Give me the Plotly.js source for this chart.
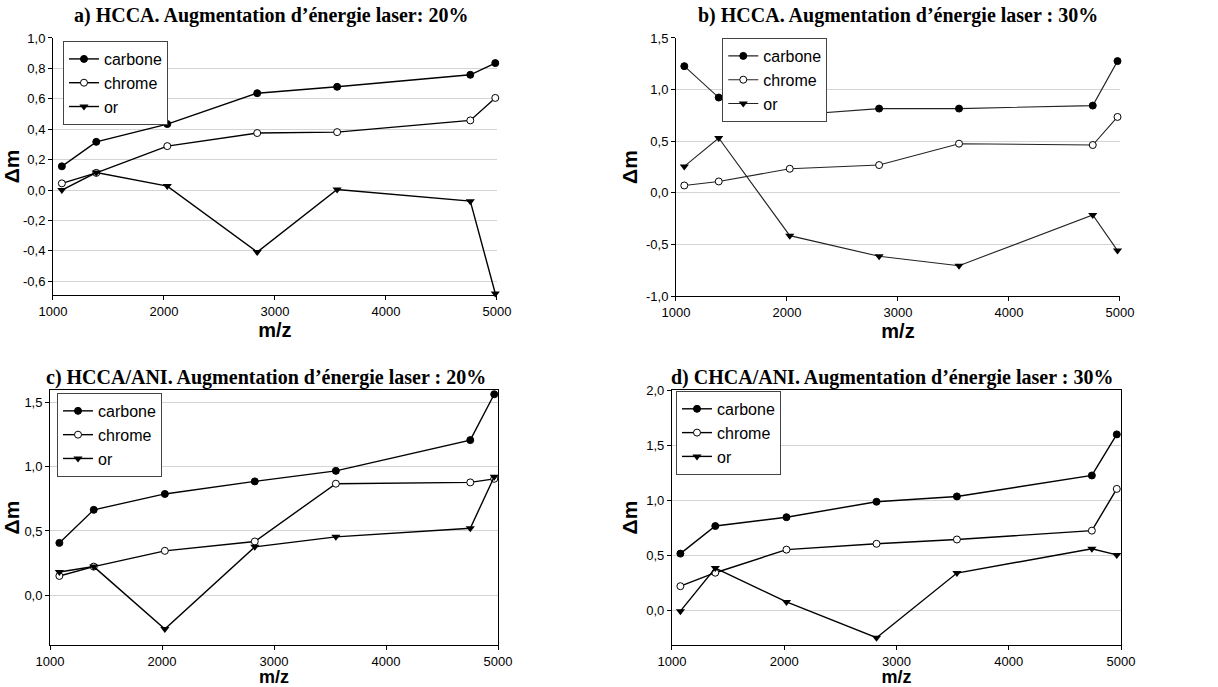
<!DOCTYPE html>
<html><head><meta charset="utf-8">
<script src="https://cdn.plot.ly/plotly-3.0.1.min.js"></script>
<style>html,body{margin:0;padding:0;background:#fff}#chart{width:1218px;height:687px}</style>
</head><body><div id="chart"></div>
<script>
// m/z values for each panel
const mzA = [1080, 1390, 2030, 2840, 3560, 4760, 4985];
const mzB = [1075, 1385, 2025, 2830, 3550, 4755, 4978];
const mzC = [1083, 1390, 2025, 2828, 3552, 4752, 4966];
const mzD = [1075, 1386, 2020, 2822, 3538, 4740, 4962];

// a) HCCA 20%
const aCarbone = [0.156, 0.317, 0.434, 0.637, 0.679, 0.758, 0.835];
const aChrome  = [0.044, 0.113, 0.289, 0.375, 0.381, 0.458, 0.606];
const aOr      = [0.000, 0.115, 0.026, -0.408, 0.004, -0.073, -0.680];
// b) HCCA 30%
const bCarbone = [1.227, 0.923, 0.751, 0.816, 0.816, 0.845, 1.276];
const bChrome  = [0.071, 0.110, 0.233, 0.269, 0.476, 0.463, 0.735];
const bOr      = [0.256, 0.531, -0.415, -0.615, -0.706, -0.214, -0.560];
// c) HCCA/ANI 20%
const cCarbone = [0.407, 0.665, 0.789, 0.887, 0.969, 1.209, 1.567];
const cChrome  = [0.149, 0.222, 0.345, 0.418, 0.869, 0.879, 0.907];
const cOr      = [0.180, 0.222, -0.265, 0.376, 0.454, 0.521, 0.923];
// d) CHCA/ANI 30%
const dCarbone = [0.518, 0.768, 0.848, 0.988, 1.036, 1.226, 1.598];
const dChrome  = [0.223, 0.345, 0.554, 0.607, 0.646, 0.726, 1.104];
const dOr      = [-0.003, 0.387, 0.080, -0.244, 0.342, 0.562, 0.506];

const seriesNames = ['carbone', 'chrome', 'or'];
const panelTitles = [
  'a) HCCA. Augmentation d\u2019énergie laser: 20%',
  'b) HCCA. Augmentation d\u2019énergie laser : 30%',
  'c) HCCA/ANI. Augmentation d\u2019énergie laser : 20%',
  'd) CHCA/ANI. Augmentation d\u2019énergie laser : 30%'
];
const xTickVals = [1000, 2000, 3000, 4000, 5000];
const xTickText = ['1000', '2000', '3000', '4000', '5000'];
const yTickValsA = [-0.6, -0.4, -0.2, 0, 0.2, 0.4, 0.6, 0.8, 1.0];
const yTickTextA = ['-0,6', '-0,4', '-0,2', '0,0', '0,2', '0,4', '0,6', '0,8', '1,0'];
const yTickValsB = [-1.0, -0.5, 0, 0.5, 1.0, 1.5];
const yTickTextB = ['-1,0', '-0,5', '0,0', '0,5', '1,0', '1,5'];
const yTickValsC = [0, 0.5, 1.0, 1.5];
const yTickTextC = ['0,0', '0,5', '1,0', '1,5'];
const yTickValsD = [0, 0.5, 1.0, 1.5, 2.0];
const yTickTextD = ['0,0', '0,5', '1,0', '1,5', '2,0'];

const markerStyles = [
  {symbol: 'circle', size: 7, color: '#000', line: {color: '#000', width: 1}},
  {symbol: 'circle', size: 7, color: '#fff', line: {color: '#000', width: 1}},
  {symbol: 'triangle-down', size: 8, color: '#000', line: {color: '#000', width: 0}}
];

const panels = [
  {x: mzA, ys: [aCarbone, aChrome, aOr], xa: 'x', ya: 'y', leg: 'legend', lw: 1.4, lc: '#000'},
  {x: mzB, ys: [bCarbone, bChrome, bOr], xa: 'x2', ya: 'y2', leg: 'legend2', lw: 1.1, lc: '#222'},
  {x: mzC, ys: [cCarbone, cChrome, cOr], xa: 'x3', ya: 'y3', leg: 'legend3', lw: 1.4, lc: '#000'},
  {x: mzD, ys: [dCarbone, dChrome, dOr], xa: 'x4', ya: 'y4', leg: 'legend4', lw: 1.4, lc: '#000'}
];

const traces = [];
panels.forEach(p => {
  p.ys.forEach((y, i) => {
    traces.push({
      type: 'scatter', mode: 'lines+markers', x: p.x, y: y,
      name: seriesNames[i], xaxis: p.xa, yaxis: p.ya, legend: p.leg,
      line: {color: p.lc, width: p.lw},
      marker: markerStyles[i], cliponaxis: false
    });
  });
});

const tickFont = {family: 'Liberation Sans, Arial, sans-serif', size: 13, color: '#000'};
function axTitleFont(size) {
  return {family: 'Liberation Sans, Arial, sans-serif', size: size, color: '#000', weight: 'bold'};
}
function xAxis(domain, anchor, mirror, tsize) {
  return {domain: domain, anchor: anchor, range: [1000, 5000], tickvals: xTickVals, ticktext: xTickText,
    showgrid: false, zeroline: false, showline: true, linecolor: '#000', linewidth: 1, mirror: mirror,
    ticks: 'outside', ticklen: 4, tickcolor: '#000', tickfont: tickFont,
    title: {text: 'm/z', font: axTitleFont(tsize), standoff: 0}};
}
function yAxis(domain, anchor, range, tv, tt, mirror) {
  return {domain: domain, anchor: anchor, range: range, tickvals: tv, ticktext: tt,
    showgrid: true, gridcolor: '#d4d4d4', gridwidth: 1, zeroline: false,
    showline: true, linecolor: '#000', linewidth: 1, mirror: mirror,
    ticks: 'outside', ticklen: 4, tickcolor: '#000', tickfont: tickFont,
    title: {text: 'Δm', font: axTitleFont(21), standoff: 2}};
}
const legFont = {family: 'Liberation Sans, Arial, sans-serif', size: 16, color: '#000'};
function leg(x, y) {
  return {x: x, y: y, xanchor: 'left', yanchor: 'top', bgcolor: '#fff', bordercolor: '#444',
    borderwidth: 1, font: legFont, tracegroupgap: 0, itemwidth: 30};
}
const titleFont = {family: 'Liberation Serif, Times New Roman, serif', size: 20, color: '#000', weight: 'bold'};
function ttl(text, x, y) {
  return {text: text, x: x, y: y, xref: 'paper', yref: 'paper', xanchor: 'center', yanchor: 'middle',
    showarrow: false, font: titleFont};
}

const layout = {
  width: 1218, height: 687, margin: {l: 0, r: 0, t: 0, b: 0},
  paper_bgcolor: '#fff', plot_bgcolor: '#fff', showlegend: true,
  xaxis: xAxis([0.0435, 0.408], 'y', false, 20),
  yaxis: yAxis([0.5706, 0.9447], 'x', [-0.69, 1.0], yTickValsA, yTickTextA, false),
  xaxis2: xAxis([0.555, 0.9195], 'y2', false, 20),
  yaxis2: yAxis([0.5691, 0.9447], 'x2', [-1.0, 1.5], yTickValsB, yTickTextB, false),
  xaxis3: xAxis([0.0411, 0.4089], 'y3', true, 18),
  yaxis3: yAxis([0.0611, 0.4323], 'x3', [-0.39, 1.6], yTickValsC, yTickTextC, true),
  xaxis4: xAxis([0.5517, 0.9204], 'y4', true, 18),
  yaxis4: yAxis([0.0611, 0.4323], 'x4', [-0.31, 2.0], yTickValsD, yTickTextD, true),
  legend: leg(0.0517, 0.9403),
  legend2: leg(0.593, 0.9447),
  legend3: leg(0.0468, 0.428),
  legend4: leg(0.555, 0.431),
  annotations: [
    ttl(panelTitles[0], 271 / 1218, 1 - 15 / 687),
    ttl(panelTitles[1], 898 / 1218, 1 - 15 / 687),
    ttl(panelTitles[2], 266 / 1218, 1 - 377 / 687),
    ttl(panelTitles[3], 892 / 1218, 1 - 377 / 687)
  ]
};
Plotly.newPlot('chart', traces, layout, {displayModeBar: false, staticPlot: true});
</script></body></html>
